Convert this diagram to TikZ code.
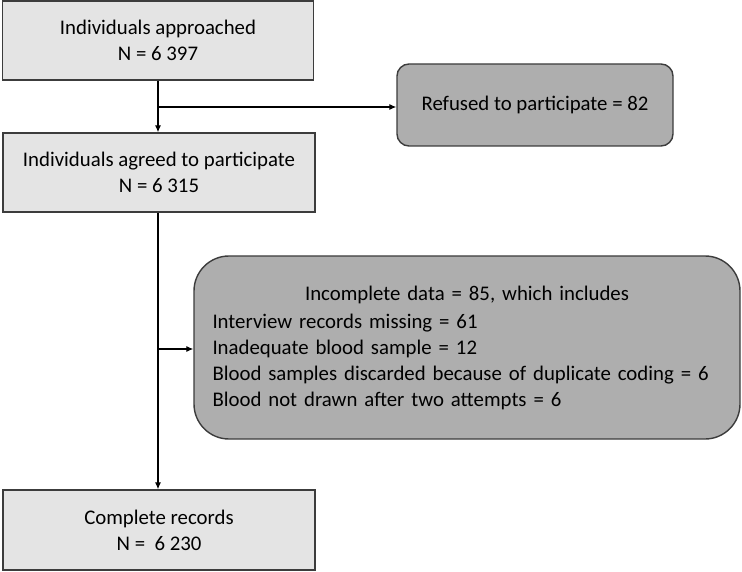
\documentclass[tikz,border=0pt]{standalone}
\usepackage{fontspec}
\setmainfont{Carlito}
\usetikzlibrary{arrows.meta}
\definecolor{boxlight}{HTML}{E4E4E4}
\definecolor{boxdark}{HTML}{AEAEAE}
\definecolor{edgegray}{HTML}{3C3C3C}
\tikzset{
	stage/.style={draw=edgegray, line width=1.4pt, fill=boxlight, align=center, inner sep=0pt, minimum height=79pt},
	excluded/.style={draw=edgegray, line width=1.4pt, fill=boxdark, inner sep=0pt},
	flow/.style={-{Latex[length=7pt,width=6pt]}, line width=1.1pt}
}
\begin{document}
\begin{tikzpicture}[x=1pt, y=-1pt, font=\fontsize{20.8}{26}\selectfont]
	\useasboundingbox (0,0) rectangle (742,572);
	%
	\node[stage, minimum width=311pt] (approached) at (158,40.5) {Individuals approached\\N = 6 397};
	\node[stage, minimum width=312pt] (agreed) at (159,172.5) {Individuals agreed to participate\\N = 6 315};
	\node[stage, minimum width=312pt, minimum height=80pt] (complete) at (159,530) {Complete records\\N = \ 6 230};
	%
	\node[excluded, rounded corners=12pt, minimum width=276pt, minimum height=82pt] (refused) at (535,105) {Refused to participate = 82};
	\node[excluded, rounded corners=35pt, minimum width=546pt, minimum height=183pt, text width=509pt, align=left] (incomplete) at (467,347.5)
		{\makebox[\linewidth]{Incomplete data = 85, which includes}\\[2pt]
		Interview records missing = 61\\
		Inadequate blood sample = 12\\
		Blood samples discarded because of duplicate coding = 6\\
		Blood not drawn after two attempts = 6};
	%
	\coordinate (split1) at (158,107);
	\coordinate (split2) at (158,349);
	\draw[flow] (approached.south -| split1) -- (agreed.north -| split1);
	\draw[flow] (split1) -- (refused.west |- split1);
	\draw[flow] (agreed.south -| split1) -- (complete.north -| split1);
	\draw[flow] (split2) -- (incomplete.west |- split2);
\end{tikzpicture}
\end{document}
